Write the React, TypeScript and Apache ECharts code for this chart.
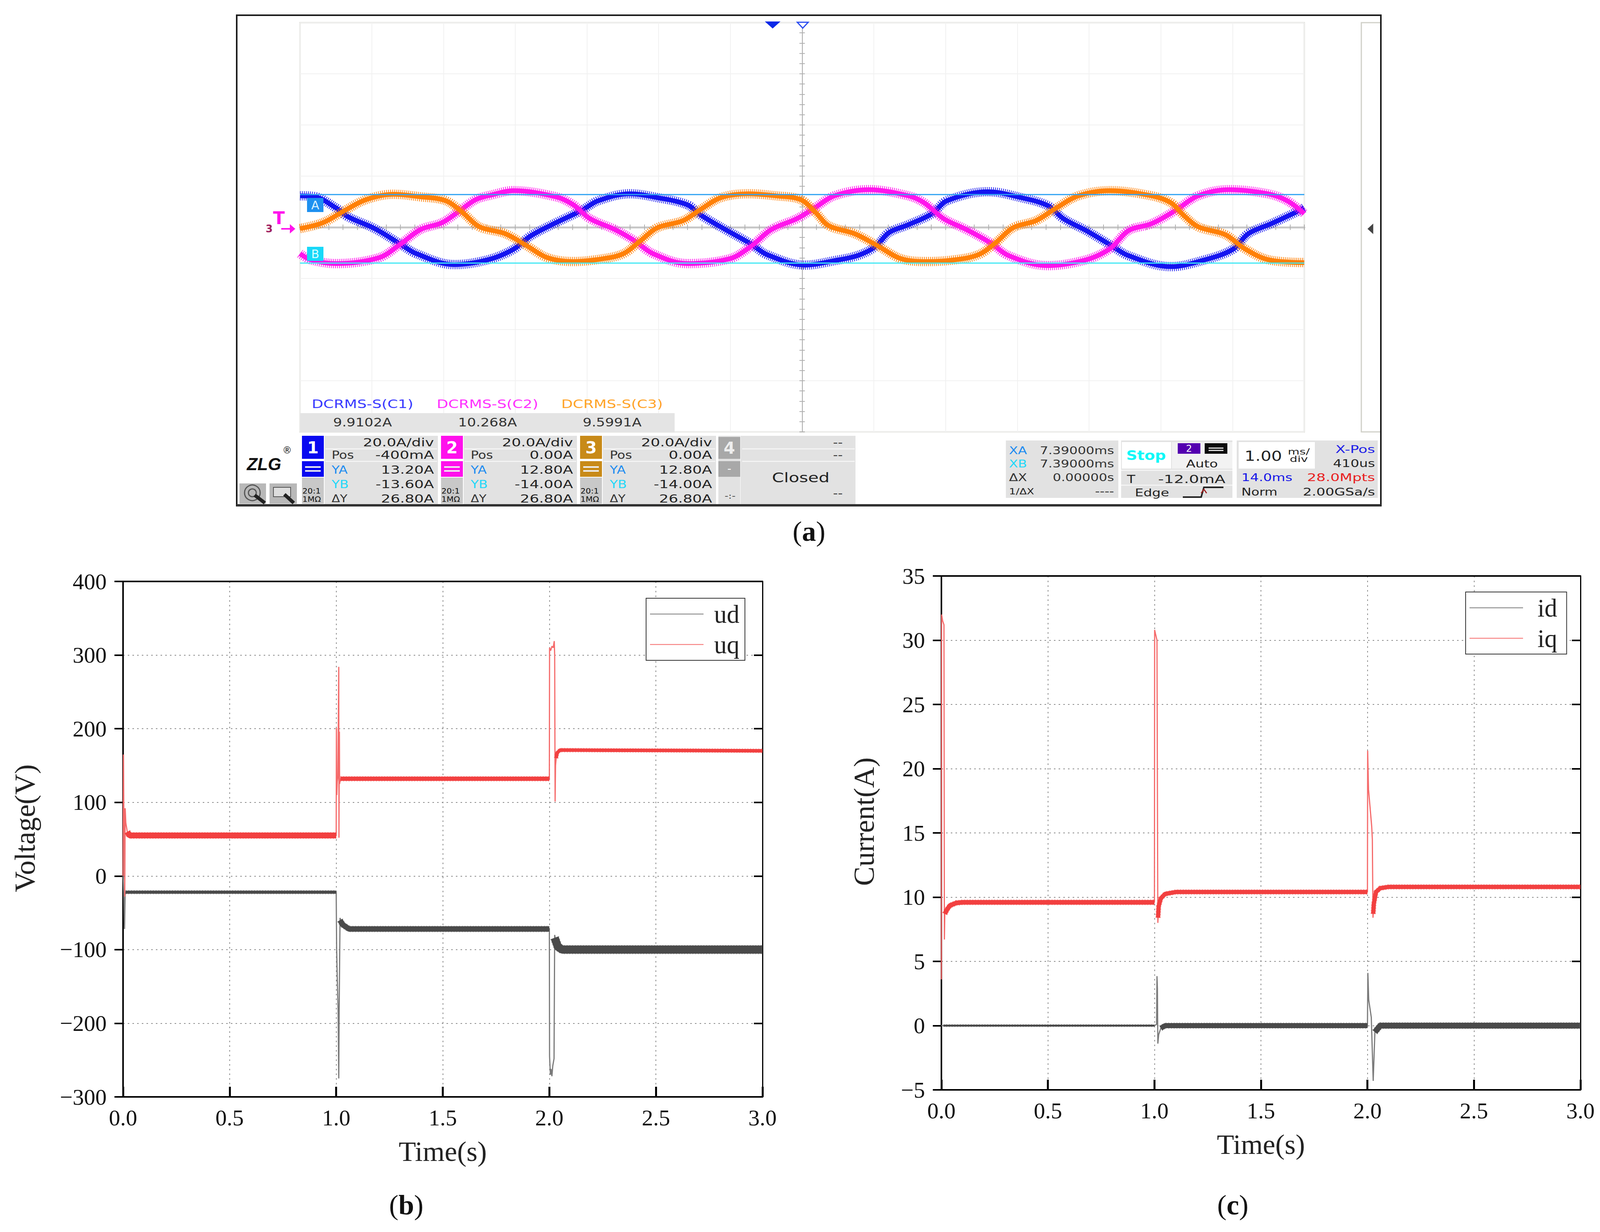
import React, { useEffect, useRef } from "react";
import * as echarts from "echarts";

// ---------- (a) oscilloscope traces: [division from left edge, amps] ----------
const phaseBlue: number[][] = [[0,12.3],[0.2,12],[0.5,7.6],[0.67,4.1],[1.04,-0.5],[1.39,-6.4],[1.62,-10.3],[2.15,-14.6],[2.62,-12.7],[2.97,-8.7],[3.22,-3.3],[3.57,1.8],[3.92,6.5],[4.16,10.4],[4.6,13.1],[4.98,11.6],[5.4,8.8],[5.58,4.9],[5.93,-0.9],[6.28,-6.4],[6.51,-10.7],[7.04,-14.8],[7.46,-13],[7.78,-11],[8.02,-7.6],[8.21,-2.1],[8.48,1],[8.81,5.3],[9.02,10.4],[9.59,13.9],[10.05,11.6],[10.43,8.4],[10.64,3.4],[10.96,-1.3],[11.29,-6.8],[11.55,-11.1],[12.14,-15.4],[12.58,-13],[13,-8.7],[13.22,-2.5],[13.54,1.4],[13.87,5.7],[14,7.6]];
const phaseMagenta: number[][] = [[0,-10.3],[0.15,-12.7],[0.5,-14.2],[1.1,-11.9],[1.39,-6.8],[1.68,-0.9],[1.98,1.8],[2.21,6.1],[2.45,10.8],[2.68,12.7],[2.97,14.3],[3.57,11.9],[3.81,8.8],[4.04,3.4],[4.39,-0.9],[4.66,-5.2],[4.92,-10.3],[5.4,-14.2],[5.99,-12.3],[6.28,-7.6],[6.57,-0.9],[6.93,3.4],[7.16,7.3],[7.45,12.3],[7.93,14.7],[8.48,12.3],[8.7,9.6],[8.97,3.4],[9.29,-0.9],[9.62,-6],[9.88,-11.1],[10.42,-15],[10.96,-12.7],[11.29,-8.4],[11.55,-1.3],[11.87,1.4],[12.2,6.5],[12.52,12.3],[12.95,14.7],[13.49,13.1],[13.76,10.4],[14,5.3]];
const phaseOrange: number[][] = [[0,-0.5],[0.32,1.8],[0.62,6.5],[0.92,10.8],[1.3,12.9],[1.68,11.9],[2.03,10.4],[2.27,5.7],[2.5,0.2],[2.86,-2.5],[3.16,-7.2],[3.45,-11.9],[3.81,-13.4],[4.22,-12.3],[4.51,-10.3],[4.75,-5.2],[4.98,-0.2],[5.34,2.6],[5.58,6.9],[5.87,11.6],[6.25,13.1],[6.63,12.3],[6.98,10.8],[7.19,5.7],[7.37,0.6],[7.73,-2.5],[8.05,-7.2],[8.38,-12.3],[8.75,-13.4],[9.13,-12.7],[9.46,-10.7],[9.7,-6],[9.94,-0.2],[10.26,2.6],[10.53,7.3],[10.85,12.3],[11.29,14.3],[11.87,12.3],[12.14,9.6],[12.31,4.9],[12.52,0.2],[12.9,-2.9],[13.17,-8.4],[13.5,-12.7],[14,-13.8]];
const cursorYA = 12.8;
const cursorYB = -14;
const scopeXRange = [-7, 7];
const scopeYRange = [-80, 80];

// ---------- (b) voltages: [seconds, volts] ----------
const udStepTrace: number[][] = [[0,0],[0.004,-30],[0.007,-72],[0.01,-22],[1,-22],[1.002,-98],[1.005,-140],[1.009,-182],[1.012,-275],[1.014,-180],[1.018,-57],[1.03,-66],[1.06,-72],[2,-72],[2.001,-245],[2.005,-270],[2.008,-262],[2.012,-272],[2.016,-258],[2.022,-248],[2.025,-80],[2.03,-88],[2.04,-96],[2.06,-100],[3,-100]];
const uqStepTrace: number[][] = [[0,0],[0.002,165],[0.004,70],[0.006,92],[0.008,-28],[0.01,92],[0.013,72],[0.02,60],[0.03,55],[1,55],[1.001,201],[1.003,110],[1.005,128],[1.008,135],[1.012,284],[1.013,52],[1.014,135],[1.015,196],[1.016,125],[1.02,132],[2,132],[2.001,310],[2.006,306],[2.012,312],[2.018,310],[2.023,319],[2.025,300],[2.027,101],[2.029,150],[2.032,160],[2.036,167],[2.05,171],[3,170]];
const udBands: number[][][] = [[[0.012,-22],[1,-22]],[[1.018,-60],[1.03,-66],[1.06,-72],[2,-72]],[[2.025,-84],[2.03,-88],[2.04,-96],[2.06,-100],[3,-100]]];
const uqBands: number[][][] = [[[0.02,60],[0.03,55],[1,55]],[[1.02,132],[2,132]],[[2.032,160],[2.036,167],[2.05,171],[3,170]]];
const voltageYTicks = [-300, 400];

// ---------- (c) currents: [seconds, amps] ----------
const idStepTrace: number[][] = [[0,0],[1,0],[1.01,0.1],[1.012,3.85],[1.014,2.9],[1.016,-1.4],[1.02,-0.7],[1.03,-0.2],[1.05,0],[2,0],[2.002,4.1],[2.006,2],[2.018,0.65],[2.027,-4.3],[2.035,-0.5],[2.06,0],[3,0]];
const iqStepTrace: number[][] = [[0,3.6],[0.001,32],[0.006,31.5],[0.012,31.2],[0.014,6.7],[0.016,8.7],[0.025,9],[0.04,9.35],[0.07,9.55],[0.1,9.6],[1,9.6],[1.001,30.8],[1.005,30.5],[1.012,30],[1.013,24],[1.016,8],[1.02,9.3],[1.03,9.9],[1.05,10.25],[1.1,10.4],[2,10.4],[2.001,21.4],[2.005,18.4],[2.02,15.5],[2.023,14.5],[2.026,8.4],[2.03,9.5],[2.04,10.4],[2.06,10.7],[2.1,10.8],[3,10.8]];
const idBands: number[][][] = [[[0.01,0],[1,0]],[[1.03,-0.2],[1.05,0],[2,0]],[[2.035,-0.5],[2.06,0],[3,0]]];
const iqBands: number[][][] = [[[0.016,8.7],[0.025,9],[0.04,9.35],[0.07,9.55],[0.1,9.6],[1,9.6]],[[1.017,8.4],[1.02,9.3],[1.03,9.9],[1.05,10.25],[1.1,10.4],[2,10.4]],[[2.027,8.7],[2.03,9.5],[2.04,10.4],[2.06,10.7],[2.1,10.8],[3,10.8]]];
const currentYTicks = [-5, 35];

// ---------- panel texts ----------
const measureNames = ["DCRMS-S(C1)", "DCRMS-S(C2)", "DCRMS-S(C3)"];
const measureValues = ["9.9102A", "10.268A", "9.5991A"];
const chNumbers = ["1", "2", "3"];
const chDiv = ["20.0A/div", "20.0A/div", "20.0A/div"];
const chPos = ["-400mA", "0.00A", "0.00A"];
const chYA = ["13.20A", "12.80A", "12.80A"];
const chYB = ["-13.60A", "-14.00A", "-14.00A"];
const chDY = ["26.80A", "26.80A", "26.80A"];
const cursorLabels = ["XA", "XB", "ΔX", "1/ΔX"];
const cursorValues = ["7.39000ms", "7.39000ms", "0.00000s", "----"];

const BLUE = "#1414f0", MAGENTA = "#ff14ec", ORANGE = "#ff8006";
const RED = "#f24040", DARK = "#4a4a4a", RED_THIN = "#f56a6a", DARK_THIN = "#7a7a7a";
const SERIF = "'Liberation Serif', serif";
const SANS = "'DejaVu Sans', sans-serif";

const t = (x: number, y: number, text: string, size: number, fill = "#222", align = "left", o: any = {}) => ({
  type: "text", x, y, scaleX: o.sx ?? 1.32, rotation: o.rot ?? 0, silent: true, z: o.z ?? 20,
  style: { text, x: 0, y: 0, fill, align, verticalAlign: "middle", font: `${o.weight ?? "normal"} ${size}px ${o.family ?? SANS}`, rich: o.rich },
});
const r = (x: number, y: number, w: number, h: number, fill: string, o: any = {}) => ({
  type: "rect", silent: true, z: o.z ?? 10, shape: { x, y, width: w, height: h }, style: { fill, stroke: o.stroke, lineWidth: o.lw },
});
const tri = (pts: number[][], fill: string, stroke?: string) => ({
  type: "polygon", silent: true, z: 12, shape: { points: pts }, style: { fill, stroke, lineWidth: 3 },
});
const pl = (pts: number[][], stroke: string, lw = 3) => ({
  type: "polyline", silent: true, z: 14, shape: { points: pts }, style: { stroke, lineWidth: lw, fill: "none" },
});

function scopeGraphics() {
  const g: any[] = [];
  g.push(r(606, 39, 2929, 1256, "none", { stroke: "#1c1c1c", lw: 4, z: 9 }));
  g.push(r(606, 1291, 2929, 5, "#333", { z: 9 }));
  // right strip
  g.push(pl([[3533, 58], [3485, 58], [3485, 1106], [3533, 1106]], "#d0d0c8", 3));
  g.push(tri([[3503, 586], [3514, 576], [3514, 596]], "#444", "#444"));
  // markers
  g.push(tri([[1958, 55], [1998, 55], [1978, 73]], "#0a28e8"));
  g.push(tri([[2041, 57], [2069, 57], [2055, 72]], "#fff", "#2a4cf0"));
  g.push(r(786, 507, 42, 36, "#1e90f0"));
  g.push(t(807, 525, "A", 30, "#d8f0ff", "center", { sx: 1 }));
  g.push(r(786, 632, 42, 36, "#18d8f8"));
  g.push(t(807, 650, "B", 30, "#d8ffff", "center", { sx: 1 }));
  g.push(t(714, 558, "T", 44, "#ff14ec", "center", { sx: 1, weight: "bold" }));
  g.push(t(689, 586, "3", 26, "#a02060", "center", { sx: 1, weight: "bold" }));
  g.push(pl([[720, 586], [752, 586]], "#ff14ec", 4));
  g.push(tri([[742, 574], [756, 586], [742, 598]], "#ff14ec"));
  // measurement table
  const mx = [928, 1248, 1567];
  const mc = ["#3a3aff", "#ff30ff", "#ffa428"];
  g.push(r(768, 1058, 959, 49, "#e4e4e4"));
  measureNames.forEach((m, i) => {
    g.push(t(mx[i], 1035, m, 30, mc[i], "center", { sx: 1.28 }));
    g.push(t(mx[i], 1082, measureValues[i], 30, "#333", "center", { sx: 1.2 }));
  });
  // channels
  const cc = ["#0808f0", "#ff10ec", "#c88a18"];
  const bx = [773, 1129, 1485];
  chNumbers.forEach((n, i) => {
    const x = bx[i];
    g.push(r(x + 58, 1116, 290, 175, "#e2e2e2"));
    g.push(r(x, 1116, 56, 59, cc[i]));
    g.push(t(x + 28, 1146, n, 42, "#fff", "center", { sx: 1, weight: "bold" }));
    g.push(r(x, 1181, 56, 40, cc[i]));
    g.push(r(x + 8, 1194, 40, 4, "#eee"));
    g.push(r(x + 8, 1204, 40, 4, "#eee"));
    g.push(r(x, 1223, 56, 67, "#c8c8c8"));
    g.push(t(x + 1, 1257, "20:1", 20, "#111", "left", { sx: 1.05 }));
    g.push(t(x + 1, 1278, "1MΩ", 20, "#111", "left", { sx: 1.05 }));
    g.push(r(x + 60, 1148, 286, 3, "#f4f4f4"));
    g.push(r(x + 60, 1180, 286, 3, "#f4f4f4"));
    const right = x + 338;
    g.push(t(right, 1133, chDiv[i], 29, "#222", "right"));
    g.push(t(x + 76, 1165, "Pos", 28, "#333", "left", { sx: 1.2 }));
    g.push(t(right, 1165, chPos[i], 29, "#222", "right"));
    g.push(t(x + 76, 1203, "YA", 28, "#1e8cf0", "left", { sx: 1.2 }));
    g.push(t(right, 1203, chYA[i], 29, "#222", "right"));
    g.push(t(x + 76, 1240, "YB", 28, "#22d8f8", "left", { sx: 1.2 }));
    g.push(t(right, 1240, chYB[i], 29, "#222", "right"));
    g.push(t(x + 76, 1277, "ΔY", 26, "#333", "left", { sx: 1.2 }));
    g.push(t(right, 1277, chDY[i], 29, "#222", "right"));
  });
  // channel 4
  g.push(r(1896, 1116, 294, 175, "#e2e2e2"));
  g.push(r(1839, 1116, 56, 175, "#e2e2e2"));
  g.push(r(1839, 1119, 56, 56, "#a8a8a8"));
  g.push(t(1867, 1147, "4", 42, "#eee", "center", { sx: 1, weight: "bold" }));
  g.push(r(1839, 1181, 56, 40, "#a8a8a8"));
  g.push(t(1867, 1200, "-", 28, "#fff", "center", { sx: 1 }));
  g.push(r(1900, 1148, 288, 3, "#f4f4f4"));
  g.push(r(1900, 1180, 288, 3, "#f4f4f4"));
  g.push(t(2145, 1133, "--", 26, "#333", "center"));
  g.push(t(2145, 1165, "--", 26, "#333", "center"));
  g.push(t(2050, 1223, "Closed", 34, "#222", "center", { sx: 1.29 }));
  g.push(t(1869, 1270, "-:-", 20, "#333", "center"));
  g.push(t(2145, 1263, "--", 26, "#333", "center"));
  // logo and buttons
  g.push(t(676, 1188, "ZLG", 44, "#111", "center", { sx: 1, weight: "italic bold", family: "'Liberation Sans', sans-serif" }));
  g.push(t(735, 1153, "®", 24, "#111", "center", { sx: 1 }));
  g.push(r(613, 1238, 68, 52, "#b8b8b8"));
  g.push(r(690, 1238, 70, 52, "#b8b8b8"));
  g.push({ type: "circle", silent: true, z: 12, shape: { cx: 646, cy: 1262, r: 20 }, style: { fill: "none", stroke: "#555", lineWidth: 3 } });
  g.push({ type: "circle", silent: true, z: 12, shape: { cx: 646, cy: 1262, r: 10 }, style: { fill: "none", stroke: "#555", lineWidth: 3 } });
  g.push(pl([[652, 1268], [678, 1288]], "#222", 9));
  g.push(r(700, 1248, 44, 24, "#ddd", { stroke: "#555", lw: 2, z: 12 }));
  g.push(pl([[728, 1266], [752, 1288]], "#222", 9));
  // cursor panel
  g.push(r(2575, 1128, 288, 147, "#e2e2e2"));
  const cy = [1154, 1188, 1223, 1258];
  const cf = ["#1e8cf0", "#22d8f8", "#333", "#222"];
  cursorLabels.forEach((c, i) => {
    g.push(t(2583, cy[i], c, i === 3 ? 22 : 27, cf[i], "left", { sx: 1.25 }));
    g.push(t(2852, cy[i], cursorValues[i], 27, "#333", "right", { sx: 1.25 }));
  });
  // run panel
  g.push(r(2870, 1128, 285, 147, "#e2e2e2"));
  g.push(r(2872, 1132, 126, 68, "#fff"));
  g.push(t(2934, 1166, "Stop", 34, "#10f8f8", "center", { sx: 1.15, weight: "bold" }));
  g.push(r(3000, 1132, 155, 68, "#f2f2f2"));
  g.push(r(3015, 1135, 58, 27, "#5400b0"));
  g.push(t(3044, 1149, "2", 24, "#fff", "center", { sx: 1 }));
  g.push(r(3084, 1135, 58, 27, "#0c0c0c"));
  g.push(r(3094, 1146, 38, 3, "#ddd"));
  g.push(r(3094, 1152, 38, 3, "#ddd"));
  g.push(t(3077, 1188, "Auto", 27, "#222", "center", { sx: 1.3 }));
  g.push(r(2870, 1203, 285, 3, "#f4f4f4"));
  g.push(r(2870, 1241, 285, 3, "#f4f4f4"));
  g.push(t(2885, 1227, "T", 29, "#222", "left", { sx: 1.2 }));
  g.push(t(3137, 1227, "-12.0mA", 29, "#222", "right", { sx: 1.4 }));
  g.push(t(2949, 1262, "Edge", 26, "#222", "center", { sx: 1.34 }));
  g.push(pl([[3028, 1273], [3075, 1273], [3082, 1248], [3132, 1248]], "#222", 4));
  g.push(pl([[3075, 1263], [3082, 1253], [3089, 1263]], "#a02020", 3));
  // timebase panel
  g.push(r(3166, 1128, 361, 147, "#e2e2e2"));
  g.push(r(3171, 1132, 195, 68, "#fff"));
  g.push(t(3234, 1167, "1.00", 36, "#222", "center", { sx: 1.2 }));
  g.push(t(3325, 1156, "ms/", 22, "#222", "center", { sx: 1.4 }));
  g.push(t(3325, 1175, "div", 22, "#222", "center", { sx: 1.4 }));
  g.push(t(3520, 1151, "X-Pos", 27, "#2020e8", "right", { sx: 1.39 }));
  g.push(t(3520, 1187, "410us", 27, "#222", "right", { sx: 1.3 }));
  g.push(t(3178, 1223, "14.0ms", 27, "#1414e8", "left", { sx: 1.3 }));
  g.push(t(3520, 1223, "28.0Mpts", 27, "#e82020", "right", { sx: 1.39 }));
  g.push(t(3178, 1260, "Norm", 26, "#222", "left", { sx: 1.3 }));
  g.push(t(3520, 1260, "2.00GSa/s", 27, "#222", "right", { sx: 1.34 }));
  return g;
}

const caption = (x: number, y: number, letter: string) => ({
  type: "text", x, y, silent: true, z: 20,
  style: {
    text: `{p|(}{b|${letter}}{p|)}`, x: 0, y: 0, align: "center", verticalAlign: "middle",
    rich: {
      p: { font: `normal 72px ${SERIF}`, fill: "#111" },
      b: { font: `bold 72px ${SERIF}`, fill: "#111" },
    },
  },
});

const yTitle = (x: number, y: number, text: string) =>
  ({ ...t(x, y, text, 74, "#222", "center", { sx: 1, family: SERIF, rot: Math.PI / 2 }) });

const plotAxes = (gridIndex: number, range: number[], step: number, title: string, gap: number) => {
  const fmt = (v: number) => (v < 0 ? "\u2212" + Math.abs(v) : String(v));
  const splitLine = { show: true, lineStyle: { color: "#8c8c8c", width: 2, type: [4, 8] } };
  const labelStyle = { fontFamily: SERIF, fontSize: 58, color: "#111" };
  return {
    x: [
      {
        type: "value", gridIndex, min: 0, max: 3, interval: 0.5,
        name: title, nameLocation: "middle", nameGap: gap,
        nameTextStyle: { fontFamily: SERIF, fontSize: 72, color: "#222" },
        axisLine: { onZero: false, lineStyle: { color: "#000", width: 4 } },
        axisTick: { inside: true, length: 26, lineStyle: { color: "#000", width: 5 } },
        axisLabel: { ...labelStyle, margin: 24, formatter: (v: number) => v.toFixed(1) },
        splitLine,
      },
      {
        type: "value", gridIndex, position: "top", min: 0, max: 3, interval: 0.5,
        axisLine: { onZero: false, lineStyle: { color: "#000", width: 4 } },
        axisTick: { show: false }, axisLabel: { show: false }, splitLine: { show: false },
      },
    ],
    y: [
      {
        type: "value", gridIndex, min: range[0], max: range[1], interval: step,
        axisLine: { onZero: false, lineStyle: { color: "#000", width: 4 } },
        axisTick: { inside: false, length: 22, lineStyle: { color: "#000", width: 4 } },
        axisLabel: { ...labelStyle, margin: 42, formatter: fmt },
        splitLine,
      },
      {
        type: "value", gridIndex, position: "right", min: range[0], max: range[1], interval: step,
        axisLine: { onZero: false, lineStyle: { color: "#000", width: 3 } },
        axisTick: { inside: true, length: 22, lineStyle: { color: "#000", width: 4 } },
        axisLabel: { show: false }, splitLine: { show: false },
      },
    ],
  };
};

const bandSeries = (name: string, bands: number[][][], widths: number[], color: string, xAxisIndex: number, yAxisIndex: number) =>
  bands.flatMap((data, i) => {
    const base = { type: "line", name, xAxisIndex, yAxisIndex, showSymbol: false, silent: true, data, itemStyle: { color } };
    return [
      { ...base, lineStyle: { color, width: widths[i], cap: "butt" }, z: 7 },
      { ...base, lineStyle: { color, width: widths[i] + 3, cap: "butt", type: [2, 5], opacity: 0.5 }, z: 6 },
    ];
  });
const thinSeries = (name: string, data: number[][], color: string, xAxisIndex: number, yAxisIndex: number) => ({
  type: "line", name, xAxisIndex, yAxisIndex, showSymbol: false, silent: true, data,
  lineStyle: { color, width: 3 }, itemStyle: { color }, z: 5,
});
const traceSeries = (data: number[][], color: string, z: number) => {
  const d = data.map((p) => [p[0] + scopeXRange[0], p[1]]);
  const base = { type: "line", xAxisIndex: 0, yAxisIndex: 0, showSymbol: false, silent: true, smooth: 0.35, data: d };
  return [
    { ...base, z, lineStyle: { color, width: 24, type: [2, 3], opacity: 0.9, cap: "butt" } },
    { ...base, z: z + 0.1, lineStyle: { color, width: 12 } },
  ];
};
const legendFor = (names: string[], left: number, top: number, rightPad: number, textPad: number) => ({
  show: true, data: names.map((name) => ({ name, icon: "rect" })),
  left, top, orient: "vertical", itemWidth: 137, itemHeight: 2, itemGap: 13, padding: [8, rightPad, 8, 10],
  backgroundColor: "#fff", borderColor: "#333", borderWidth: 2, selectedMode: false, z: 15,
  textStyle: { fontFamily: SERIF, fontSize: 65, color: "#222", padding: [0, 0, 0, textPad], lineHeight: 54 },
});

export default function App() {
  const ref = useRef<HTMLDivElement>(null);
  useEffect(() => {
    const chart = echarts.init(ref.current!, undefined, { renderer: "svg" });
    const scopeLine = (position: string, width: number, color: string) => ({
      axisLine: { onZero: true, lineStyle: { color, width } },
      axisTick: { inside: false, length: 7, lineStyle: { color: "#b0b0b0", width: 2 } },
      minorTick: { show: true, splitNumber: 5, length: 7, lineStyle: { color: "#b0b0b0", width: 2 } },
      axisLabel: { show: false }, position,
    });
    const bAxes = plotAxes(1, voltageYTicks, 100, "Time(s)", 104);
    const cAxes = plotAxes(2, currentYTicks, 5, "Time(s)", 104);
    const option: any = {
      animation: false,
      backgroundColor: "#fff",
      grid: [
        { left: 768, top: 58, width: 2571, height: 1048, show: true, borderColor: "#cfcfc6", borderWidth: 3 },
        { left: 315, top: 1489, width: 1637, height: 1320, show: false },
        { left: 2410, top: 1475, width: 1636, height: 1316, show: false },
      ],
      xAxis: [
        { type: "value", gridIndex: 0, min: scopeXRange[0], max: scopeXRange[1], interval: 1, ...scopeLine("bottom", 5, "#c8c8c8"),
          splitLine: { show: true, lineStyle: { color: "#f1f1f1", width: 2 } } },
        { type: "value", gridIndex: 0, min: scopeXRange[0], max: scopeXRange[1], interval: 1, ...scopeLine("top", 5, "#c8c8c8"), splitLine: { show: false } },
        ...bAxes.x, ...cAxes.x,
      ],
      yAxis: [
        { type: "value", gridIndex: 0, min: scopeYRange[0], max: scopeYRange[1], interval: 20, ...scopeLine("left", 2, "#a8a8a8"),
          splitLine: { show: true, lineStyle: { color: "#f1f1f1", width: 2 } } },
        { type: "value", gridIndex: 0, min: scopeYRange[0], max: scopeYRange[1], interval: 20, ...scopeLine("right", 2, "#a8a8a8"), splitLine: { show: false } },
        ...bAxes.y, ...cAxes.y,
      ],
      legend: [legendFor(["ud", "uq"], 1654, 1532, 14, 22), legendFor(["id", "iq"], 3752, 1516, 24, 32)],
      series: [
        ...traceSeries(phaseBlue, BLUE, 3),
        ...traceSeries(phaseMagenta, MAGENTA, 4),
        ...traceSeries(phaseOrange, ORANGE, 5),
        { type: "line", xAxisIndex: 0, yAxisIndex: 0, showSymbol: false, silent: true, z: 7, data: [[scopeXRange[0], cursorYA], [scopeXRange[1], cursorYA]], lineStyle: { color: "#2ea2f2", width: 3 } },
        { type: "line", xAxisIndex: 0, yAxisIndex: 0, showSymbol: false, silent: true, z: 7, data: [[scopeXRange[0], cursorYB], [scopeXRange[1], cursorYB]], lineStyle: { color: "#40e8f4", width: 3 } },
        thinSeries("ud", udStepTrace, DARK_THIN, 2, 2),
        thinSeries("uq", uqStepTrace, RED_THIN, 2, 2),
        ...bandSeries("ud", udBands, [8, 14, 21], DARK, 2, 2),
        ...bandSeries("uq", uqBands, [15, 11, 9], RED, 2, 2),
        thinSeries("id", idStepTrace, DARK_THIN, 4, 4),
        thinSeries("iq", iqStepTrace, RED_THIN, 4, 4),
        ...bandSeries("id", idBands, [5, 13, 15], DARK, 4, 4),
        ...bandSeries("iq", iqBands, [12, 11, 11], RED, 4, 4),
      ],
      graphic: {
        elements: [
          ...scopeGraphics(),
          yTitle(64, 2121, "Voltage(V)"),
          yTitle(2212, 2104, "Current(A)"),
          caption(2071, 1361, "a"),
          caption(1040, 3086, "b"),
          caption(3156, 3086, "c"),
        ],
      },
    };
    chart.setOption(option);
    return () => chart.dispose();
  }, []);
  return <div ref={ref} style={{ position: "absolute", left: 0, top: 0, width: 4111, height: 3155, background: "#fff" }} />;
}
